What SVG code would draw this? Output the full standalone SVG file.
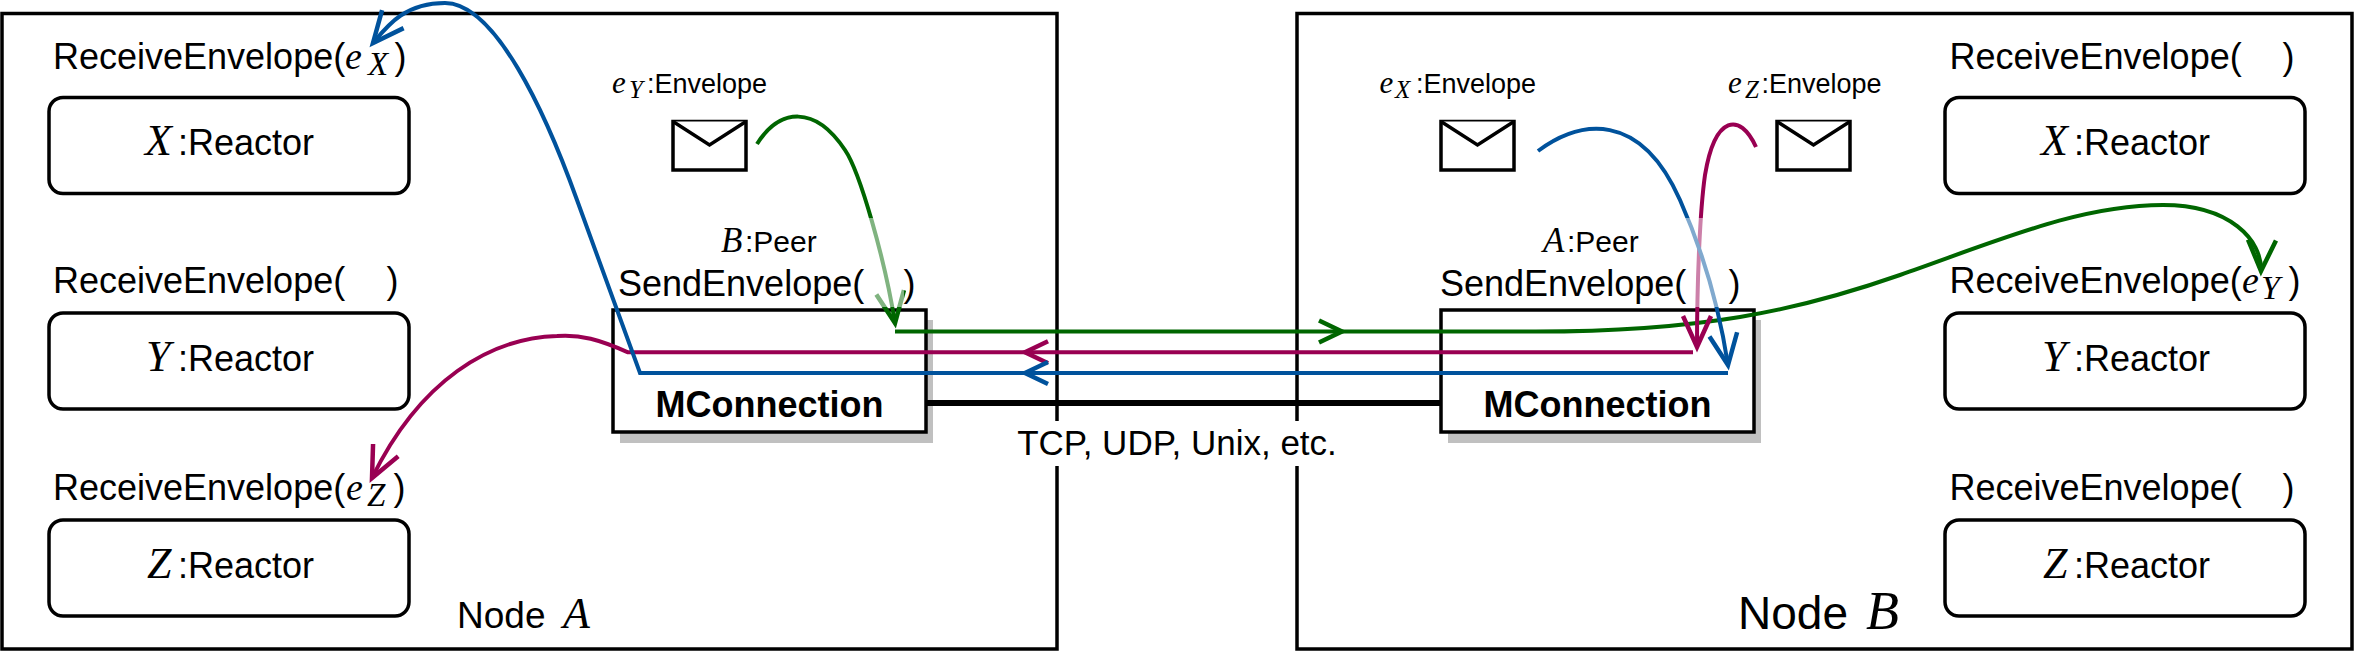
<svg xmlns="http://www.w3.org/2000/svg" xmlns:xlink="http://www.w3.org/1999/xlink" width="2355" height="651" viewBox="0 0 2355 651">
<defs>
<style>
.frame{fill:none;stroke:#000;stroke-width:3.5}
.reactor{fill:#fff;stroke:#000;stroke-width:3.5}
.mbox{fill:#fff;stroke:#000;stroke-width:3.5}
.shadow{fill:#c0c0c0;stroke:none}
.env{fill:#fff;stroke:#000;stroke-width:3.5;stroke-linejoin:miter}
.t{font-family:"Liberation Sans",Arial,sans-serif;fill:#000}
.m{font-family:"Liberation Serif","Times New Roman",serif;font-style:italic;fill:#000}
.lbl{font-size:36px}
.rl{font-size:44px}
.bold{font-family:"Liberation Sans",Arial,sans-serif;font-weight:bold;font-size:36px;text-anchor:middle}
.c{fill:none;stroke-width:4;stroke-linejoin:miter}
.g{stroke:#006600}
.r{stroke:#990052}
.b{stroke:#00529c}
.veil{fill:#fff;fill-opacity:0.5;stroke:none}
</style>
<path id="chevS" d="M-23,-11 L0,0 L-23,11" fill="none" stroke-width="4.5"/>
<marker id="endG" markerUnits="userSpaceOnUse" orient="auto" viewBox="-36 -18 42 36" markerWidth="42" markerHeight="36" refX="0" refY="0" overflow="visible"><path d="M-31,-14 L0,0 L-31,14" fill="none" stroke="#006600" stroke-width="4.5"/></marker>
<marker id="endR" markerUnits="userSpaceOnUse" orient="auto" viewBox="-36 -18 42 36" markerWidth="42" markerHeight="36" refX="0" refY="0" overflow="visible"><path d="M-31,-14 L0,0 L-31,14" fill="none" stroke="#990052" stroke-width="4.5"/></marker>
<marker id="endB" markerUnits="userSpaceOnUse" orient="auto" viewBox="-36 -18 42 36" markerWidth="42" markerHeight="36" refX="0" refY="0" overflow="visible"><path d="M-31,-14 L0,0 L-31,14" fill="none" stroke="#00529c" stroke-width="4.5"/></marker>
</defs>
<rect width="2355" height="651" fill="#fff"/>

<g id="nodeA">
<rect class="frame" x="2" y="13.5" width="1055" height="635.5"/>
<text class="t" x="457" y="628" font-size="37">Node</text>
<text class="m" x="563" y="628" font-size="44">A</text>
</g>
<g id="nodeB">
<rect class="frame" x="1297" y="13.5" width="1055" height="635.5"/>
<text class="t" x="1738" y="629" font-size="46">Node</text>
<text class="m" x="1866" y="629" font-size="54">B</text>
</g>

<g id="reactorAX">
<text class="t lbl" x="53" y="69">ReceiveEnvelope(<tspan class="m" x="345" font-size="38">e</tspan><tspan class="m" x="368" y="75" font-size="33">X</tspan><tspan x="394.5" y="69">)</tspan></text>
<rect class="reactor" x="49" y="97.5" width="360" height="96" rx="14"/>
<text class="t lbl" y="155"><tspan class="m rl" x="145">X</tspan><tspan x="178">:Reactor</tspan></text>
</g>
<g id="reactorAY">
<text class="t lbl" x="53" y="293">ReceiveEnvelope(<tspan x="386.5">)</tspan></text>
<rect class="reactor" x="49" y="313" width="360" height="96" rx="14"/>
<text class="t lbl" y="371"><tspan class="m rl" x="146">Y</tspan><tspan x="178">:Reactor</tspan></text>
</g>
<g id="reactorAZ">
<text class="t lbl" x="53" y="500">ReceiveEnvelope(<tspan class="m" x="346" font-size="38">e</tspan><tspan class="m" x="367" y="506" font-size="33">Z</tspan><tspan x="393.5" y="500">)</tspan></text>
<rect class="reactor" x="49" y="520" width="360" height="96" rx="14"/>
<text class="t lbl" y="578"><tspan class="m rl" x="147">Z</tspan><tspan x="178">:Reactor</tspan></text>
</g>

<g id="reactorBX">
<text class="t lbl" x="1949.5" y="69">ReceiveEnvelope(<tspan x="2282.5">)</tspan></text>
<rect class="reactor" x="1945" y="97.5" width="360" height="96" rx="14"/>
<text class="t lbl" y="155"><tspan class="m rl" x="2041">X</tspan><tspan x="2074">:Reactor</tspan></text>
</g>
<g id="reactorBY">
<text class="t lbl" x="1949.5" y="293">ReceiveEnvelope(<tspan class="m" x="2242" font-size="38">e</tspan><tspan class="m" x="2261" y="299" font-size="34">Y</tspan><tspan x="2288.5" y="293">)</tspan></text>
<rect class="reactor" x="1945" y="313" width="360" height="96" rx="14"/>
<text class="t lbl" y="371"><tspan class="m rl" x="2042">Y</tspan><tspan x="2074">:Reactor</tspan></text>
</g>
<g id="reactorBZ">
<text class="t lbl" x="1949.5" y="500">ReceiveEnvelope(<tspan x="2282.5">)</tspan></text>
<rect class="reactor" x="1945" y="520" width="360" height="96" rx="14"/>
<text class="t lbl" y="578"><tspan class="m rl" x="2043">Z</tspan><tspan x="2074">:Reactor</tspan></text>
</g>

<g id="envelopeY">
<text class="t" y="92.7" font-size="27"><tspan class="m" x="612" font-size="31">e</tspan><tspan class="m" x="629" y="98" font-size="25">Y</tspan><tspan x="647" y="92.7">:Envelope</tspan></text>
<rect class="env" x="673" y="121.5" width="73" height="48.5"/>
<polyline class="env" fill="none" points="673,121.5 709.5,145 746,121.5"/>
</g>
<g id="envelopeX">
<text class="t" y="92.7" font-size="27"><tspan class="m" x="1379.5" font-size="31">e</tspan><tspan class="m" x="1395" y="98" font-size="25">X</tspan><tspan x="1416" y="92.7">:Envelope</tspan></text>
<rect class="env" x="1441" y="121.5" width="73" height="48.5"/>
<polyline class="env" fill="none" points="1441,121.5 1477.5,145 1514,121.5"/>
</g>
<g id="envelopeZ">
<text class="t" y="92.7" font-size="27"><tspan class="m" x="1728" font-size="31">e</tspan><tspan class="m" x="1745" y="98" font-size="25">Z</tspan><tspan x="1761.5" y="92.7">:Envelope</tspan></text>
<rect class="env" x="1777" y="121.5" width="73" height="48.5"/>
<polyline class="env" fill="none" points="1777,121.5 1813.5,145 1850,121.5"/>
</g>

<g id="mconnA">
<rect class="shadow" x="620" y="320" width="313" height="123"/>
<rect class="mbox" x="613" y="310" width="313" height="122"/>
<text class="bold" x="769.5" y="417">MConnection</text>
</g>
<g id="mconnB">
<rect class="shadow" x="1448" y="320" width="313" height="123"/>
<rect class="mbox" x="1441" y="310" width="313" height="122"/>
<text class="bold" x="1597.5" y="417">MConnection</text>
</g>

<g id="transport">
<line x1="926" y1="403" x2="1441" y2="403" stroke="#000" stroke-width="6"/>
<rect x="1008" y="421" width="338" height="45" fill="#fff"/>
<text class="t" x="1177" y="455" font-size="35" text-anchor="middle">TCP, UDP, Unix, etc.</text>
</g>

<g id="connectors">
<path class="c g" d="M757,144 C780,108 815,105 845,150 C860,172 885,260 895,323" marker-end="url(#endG)"/>
<path class="c g" d="M895,331.5 L1520,331.5 C1700,333 1800,310 1900,275 C2000,240 2080,205 2163,205 C2230,205 2262,240 2261,271" marker-end="url(#endG)"/>
<use xlink:href="#chevS" href="#chevS" stroke="#006600" transform="translate(1342,331.5)"/>
<path class="c r" d="M1756,147 C1740,112 1715,115 1705,175 C1700,210 1697,280 1697,347" marker-end="url(#endR)"/>
<path class="c r" d="M1693,352.3 L628,352.3 C600,340 580,334 557,336 C490,338 420,380 372,478" marker-end="url(#endR)"/>
<use xlink:href="#chevS" href="#chevS" stroke="#990052" transform="translate(1025,352.3) rotate(180)"/>
<path class="c b" d="M1538,151 C1580,120 1640,110 1680,200 C1700,245 1718,300 1728,365" marker-end="url(#endB)"/>
<path class="c b" d="M1728,373 L640,373 L577,200 C545,111 495,3 445,3 C405,3 388,25 373,43" marker-end="url(#endB)"/>
<use xlink:href="#chevS" href="#chevS" stroke="#00529c" transform="translate(1025,373) rotate(180)"/>
</g>

<g id="peerA">
<rect class="veil" x="618" y="218" width="286" height="89"/>
<text class="t" y="251.7" font-size="30"><tspan class="m" x="721" font-size="35">B</tspan><tspan x="745">:Peer</tspan></text>
<text class="t lbl" x="618" y="296">SendEnvelope(<tspan x="903.5">)</tspan></text>
</g>
<g id="peerB">
<rect class="veil" x="1440" y="218" width="300" height="89"/>
<text class="t" y="251.7" font-size="30"><tspan class="m" x="1543" font-size="35">A</tspan><tspan x="1567">:Peer</tspan></text>
<text class="t lbl" x="1440" y="296">SendEnvelope(<tspan x="1728.5">)</tspan></text>
</g>
</svg>
